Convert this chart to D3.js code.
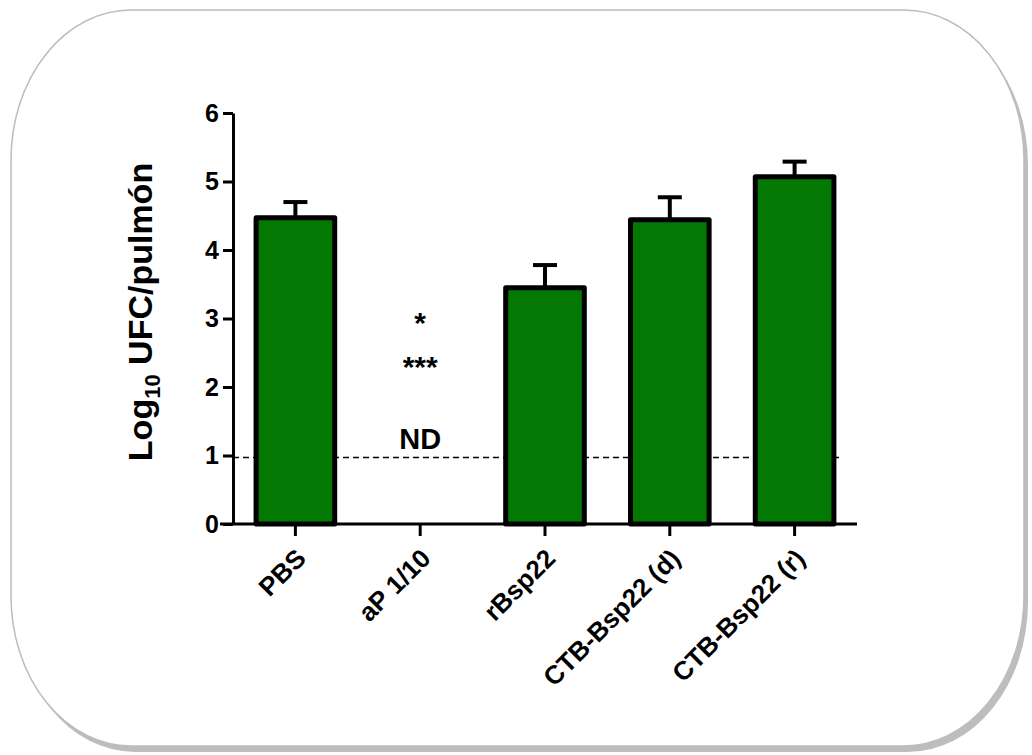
<!DOCTYPE html>
<html>
<head>
<meta charset="utf-8">
<script src="https://cdn.jsdelivr.net/npm/d3@7"></script>
<style>
  body { margin: 0; background: #fff; }
</style>
</head>
<body>
<div id="chart"></div>
<script>
// Canvas size
const width = 1032;
const height = 755;

// Chart data
const groups = ["PBS", "aP 1/10", "rBsp22", "CTB-Bsp22 (d)", "CTB-Bsp22 (r)"];
const means = [4.47, null, 3.45, 4.44, 5.07];   // aP 1/10 not detected
const errors = [0.23, null, 0.33, 0.33, 0.22];
const yTicks = [0, 1, 2, 3, 4, 5, 6];
const detectionLimit = 0.97;
const apMarks = ["*", "***", "ND"];
const apMarkValues = [3.0, 2.35, 1.1];

const barColor = "#037803";
const fontFamily = "'Liberation Sans', Arial, sans-serif";

const svg = d3.select("#chart")
  .append("svg")
  .attr("width", width)
  .attr("height", height)
  .style("font-family", fontFamily)
  .style("font-weight", "bold");

// Rounded frame with a grey shadow at bottom right
const framePath = (x, y, w, h, rx, ry) =>
  `M${x + rx},${y} H${x + w - rx} A${rx},${ry} 0 0 1 ${x + w},${y + ry} V${y + h - ry}` +
  ` A${rx},${ry} 0 0 1 ${x + w - rx},${y + h} H${x + rx} A${rx},${ry} 0 0 1 ${x},${y + h - ry}` +
  ` V${y + ry} A${rx},${ry} 0 0 1 ${x + rx},${y} Z`;

svg.append("path")
  .attr("d", framePath(15, 15, 1013, 737, 120, 150))
  .attr("fill", "#bdbdbd");
svg.append("path")
  .attr("d", framePath(11, 10, 1013, 736, 120, 150))
  .attr("fill", "#fff")
  .attr("stroke", "#bdbdbd")
  .attr("stroke-width", 1.5);

// Scales
const x = d3.scaleBand()
  .domain(groups)
  .range([233, 857])
  .paddingInner(0.37)
  .paddingOuter(0.185);

const y = d3.scaleLinear()
  .domain([0, 6])
  .range([524, 113]);

// Dashed detection limit line (drawn under the bars)
svg.append("line")
  .attr("x1", 233)
  .attr("x2", 843)
  .attr("y1", y(detectionLimit))
  .attr("y2", y(detectionLimit))
  .attr("stroke", "#000")
  .attr("stroke-width", 1.5)
  .attr("stroke-dasharray", "6,4");

// Bars
const barData = groups.map((g, i) => ({ g, v: means[i], e: errors[i] })).filter(d => d.v != null);

svg.selectAll("rect.bar")
  .data(barData)
  .join("rect")
  .attr("class", "bar")
  .attr("x", d => x(d.g))
  .attr("width", x.bandwidth())
  .attr("y", d => y(d.v))
  .attr("height", d => y(0) - y(d.v))
  .attr("fill", barColor)
  .attr("stroke", "#000")
  .attr("stroke-width", 5)
  .attr("stroke-linejoin", "round");

// Error bars (upper only)
const errs = svg.selectAll("g.err")
  .data(barData)
  .join("g")
  .attr("class", "err")
  .attr("stroke", "#000")
  .attr("stroke-width", 4);

errs.append("line")
  .attr("x1", d => x(d.g) + x.bandwidth() / 2)
  .attr("x2", d => x(d.g) + x.bandwidth() / 2)
  .attr("y1", d => y(d.v))
  .attr("y2", d => y(d.v + d.e));

errs.append("line")
  .attr("x1", d => x(d.g) + x.bandwidth() / 2 - 12)
  .attr("x2", d => x(d.g) + x.bandwidth() / 2 + 12)
  .attr("y1", d => y(d.v + d.e))
  .attr("y2", d => y(d.v + d.e));

// Y axis
const yAxis = svg.append("g")
  .attr("transform", "translate(233,0)")
  .call(d3.axisLeft(y).tickValues(yTicks).tickFormat(d3.format("d"))
    .tickSize(10).tickPadding(4).tickSizeOuter(0));
yAxis.select(".domain").attr("stroke-width", 3);
yAxis.selectAll(".tick line").attr("stroke-width", 3);
yAxis.selectAll(".tick text")
  .style("font-size", "25px")
  .style("font-weight", "bold")
  .style("font-family", fontFamily)
  .attr("fill", "#000");

// X axis
const xAxis = svg.append("g")
  .attr("transform", `translate(0,${y(0)})`)
  .call(d3.axisBottom(x).tickSize(12).tickSizeOuter(0).tickFormat(""));
xAxis.select(".domain").attr("stroke-width", 3).attr("d", "M220,0H857");
xAxis.selectAll(".tick line").attr("stroke-width", 3);

// Rotated category labels
svg.selectAll("text.xlab")
  .data(groups)
  .join("text")
  .attr("class", "xlab")
  .attr("text-anchor", "end")
  .attr("transform", d => `translate(${x(d) + x.bandwidth() / 2 + 12},${y(0) + 36}) rotate(-45)`)
  .style("font-size", "26px")
  .text(d => d);

// Marks for the undetected group
svg.selectAll("text.mark")
  .data(apMarks)
  .join("text")
  .attr("class", "mark")
  .attr("text-anchor", "middle")
  .attr("x", x("aP 1/10") + x.bandwidth() / 2)
  .attr("y", (d, i) => i === 2 ? y(apMarkValues[i]) : y(apMarkValues[i]) + 14)
  .style("font-size", (d, i) => i === 2 ? "29px" : "30px")
  .text(d => d);

// Y axis title
const title = svg.append("text")
  .attr("transform", "translate(152,312) rotate(-90)")
  .attr("text-anchor", "middle")
  .style("font-size", "34px");
title.append("tspan").text("Log");
title.append("tspan").attr("dy", 8).style("font-size", "22px").text("10");
title.append("tspan").attr("dy", -8).text(" UFC/pulmón");
</script>
</body>
</html>
